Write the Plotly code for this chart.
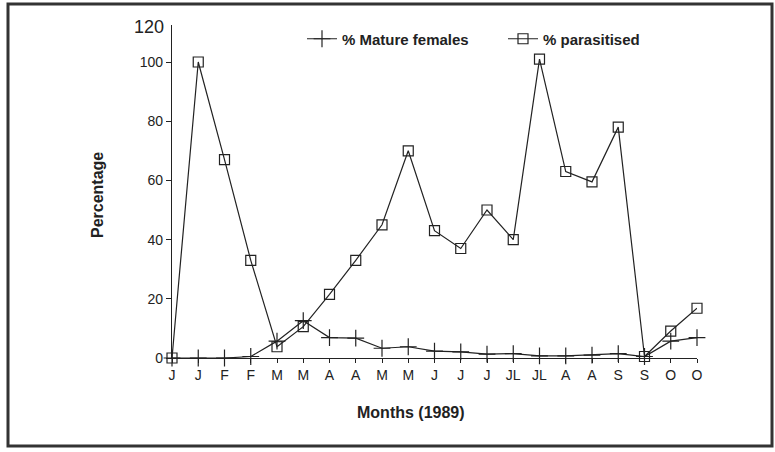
import plotly.graph_objects as go

# sampling dates (two per month), labels as printed on the original
MONTH_LABELS = ["J", "J", "F", "F", "M", "M", "A", "A", "M", "M", "J",
                "J", "J", "JL", "JL", "A", "A", "S", "S", "O", "O"]
MATURE_FEMALES = [0, 0, 0, 0.5, 5.7, 12.6, 6.9, 6.7, 3.3, 3.8, 2.3,
                  2.1, 1.3, 1.5, 0.7, 0.7, 1.0, 1.5, 0.5, 5.7, 6.9]
PARASITISED = [0, 100, 67, 33, 3.8, 10.6, 21.5, 33, 45, 70, 43,
               37, 50, 40, 101, 63, 59.5, 78, 0.5, 9.1, 16.8]
Y_TICKS = [0, 20, 40, 60, 80, 100]

x = list(range(len(MONTH_LABELS)))
FONT = "Liberation Sans"

fig = go.Figure()
fig.add_trace(go.Scatter(
    x=x, y=MATURE_FEMALES, name="% Mature females",
    mode="lines+markers", cliponaxis=False,
    line=dict(color="#222", width=1.2),
    marker=dict(symbol="cross-thin", size=12, line=dict(color="#222", width=1.2)),
))
fig.add_trace(go.Scatter(
    x=x, y=PARASITISED, name="% parasitised",
    mode="lines+markers", cliponaxis=False,
    line=dict(color="#222", width=1.2),
    marker=dict(symbol="square-open", size=10, color="#222",
                line=dict(color="#222", width=1.2)),
))

W, H = 775, 452
L, R, T, B = 172, 78, 25, 94
pw, ph = W - L - R, H - T - B


def px_x(p):
    return (p - L) / pw


def px_y(p):
    return (H - B - p) / ph


fig.update_layout(
    width=W, height=H,
    margin=dict(l=L, r=R, t=T, b=B),
    paper_bgcolor="white", plot_bgcolor="white",
    font=dict(family=FONT, color="#222", size=13),
    showlegend=True,
    legend=dict(orientation="h", x=px_x(302), y=px_y(39), yanchor="middle",
                xanchor="left", bgcolor="rgba(0,0,0,0)",
                font=dict(size=15, weight="bold", family=FONT),
                entrywidth=156, entrywidthmode="pixels",
                itemwidth=30, tracegroupgap=0),
    xaxis=dict(range=[0, len(MONTH_LABELS) - 1], tickvals=x, ticktext=MONTH_LABELS,
               showgrid=False, zeroline=False, showline=True, linecolor="#222",
               linewidth=1.2, ticks="outside", ticklen=4, tickcolor="#222",
               tickfont=dict(size=14)),
    yaxis=dict(range=[0, 112.5], tickvals=Y_TICKS, showgrid=False, zeroline=False,
               showline=True, linecolor="#222", linewidth=1.2, ticks="outside",
               ticklen=5, tickcolor="#222", tickfont=dict(size=14)),
    annotations=[
        dict(text="120", x=px_x(166), y=px_y(27), xref="paper", yref="paper",
             xanchor="right", yanchor="middle", showarrow=False,
             font=dict(size=18)),
        dict(text="<b>Percentage</b>", x=px_x(97), y=px_y(195), xref="paper",
             yref="paper", xanchor="center", yanchor="middle", textangle=-90,
             showarrow=False, font=dict(size=16)),
        dict(text="<b>Months (1989)</b>", x=px_x(411), y=px_y(412), xref="paper",
             yref="paper", xanchor="center", yanchor="middle", showarrow=False,
             font=dict(size=16)),
    ],
    shapes=[dict(type="rect", xref="paper", yref="paper",
                 x0=px_x(8), x1=px_x(772), y0=px_y(446), y1=px_y(4),
                 line=dict(color="#333", width=3))],
)

# page body margin would shift the figure, drop it
fig.write_html("out.html", config={"displayModeBar": False},
               post_script="document.body.style.margin='0';")
